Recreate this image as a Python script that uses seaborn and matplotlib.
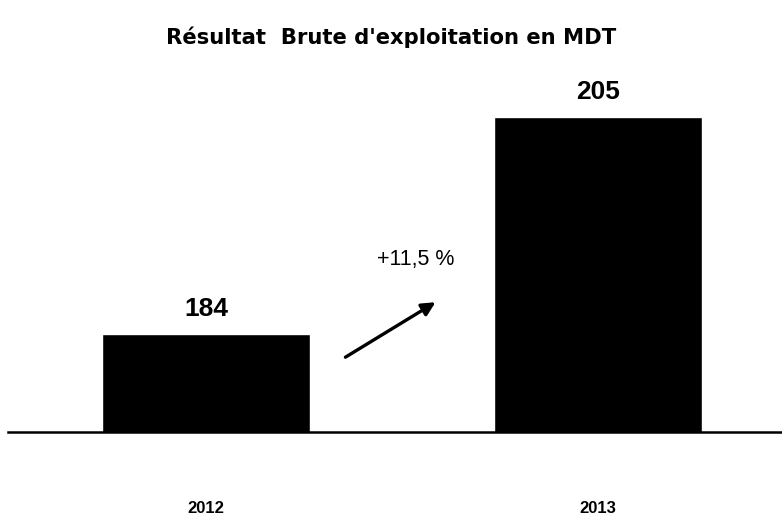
import matplotlib
matplotlib.use("Agg")
import matplotlib.pyplot as plt
import seaborn as sns
import pandas as pd

# data
years = ["2012", "2013"]
values = [184, 205]
growth_label = "+11,5 %"

sns.set_theme(style="white")
plt.rcParams['font.family'] = ['Liberation Sans', 'DejaVu Sans']
plt.rcParams['text.color'] = 'black'
plt.rcParams['xtick.color'] = 'black'

df = pd.DataFrame({"annee": years, "rbe": values})

fig = plt.figure(figsize=(7.82, 5.19), dpi=100)
ax = fig.add_axes([8 / 782, 87 / 519, 774 / 782, 372 / 519])

sns.barplot(data=df, x="annee", y="rbe", color="black", width=0.53,
            saturation=1, ax=ax)

ax.set_xlim(-0.505, 1.47)
ax.set_ylim(174.5, 210.5)

# value labels above bars
for i, v in enumerate(values):
    ax.annotate(str(v), (i, v), xytext=(0, 12.5), textcoords="offset points",
                ha="center", va="baseline", fontsize=19, fontweight="bold",
                color="black")

# growth arrow between bars
ax.annotate("", xy=(0.592, 187.2), xytext=(0.35, 181.6),
            arrowprops=dict(arrowstyle="-|>", color="black", lw=2.4,
                            mutation_scale=20))
ax.text(0.535, 191.2, growth_label, ha="center", va="center",
        fontsize=15.5, color="black")

ax.set_xlabel("")
ax.set_ylabel("")
ax.set_yticks([])
ax.tick_params(axis="x", length=0, pad=50, labelsize=12)
for lab in ax.get_xticklabels():
    lab.set_fontweight("bold")
for side in ["top", "right", "left"]:
    ax.spines[side].set_visible(False)
ax.spines["bottom"].set_color("black")
ax.spines["bottom"].set_linewidth(1.8)

fig.text(0.5, 1 - 37 / 519, "Résultat  Brute d'exploitation en MDT",
         ha="center", va="center", fontsize=15.2, fontweight="bold",
         family=["DejaVu Sans"], color="black")

fig.savefig("out.png", dpi=100, facecolor="white")
